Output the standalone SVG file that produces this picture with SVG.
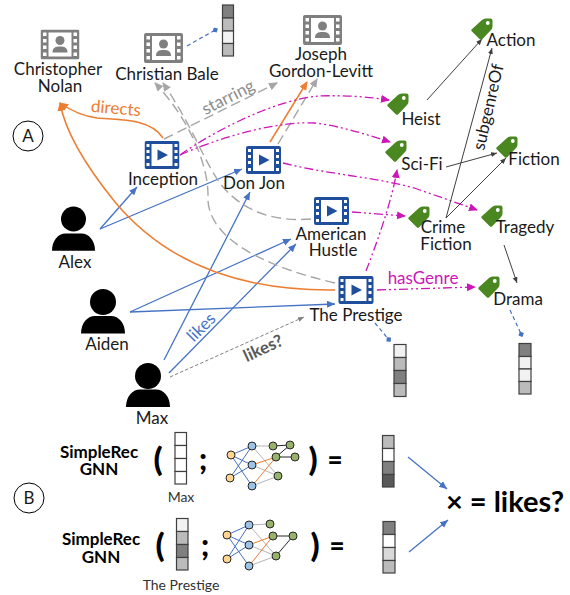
<svg xmlns="http://www.w3.org/2000/svg" xmlns:xlink="http://www.w3.org/1999/xlink" width="570" height="595" viewBox="0 0 570 595">
<style>
text{font-family:"Lato","Open Sans",sans-serif;fill:#1a1a1a;font-size:17px;text-anchor:middle}
.b{font-weight:700;fill:#000}
.p{font-weight:900;fill:#000;font-size:33px}
.s{font-size:14px;fill:#333}
.sr{font-size:17px}
.lk{stroke:#4472c4;stroke-width:1.3;fill:none;marker-end:url(#ab)}
.or{stroke:#ed7d31;stroke-width:1.5;fill:none;marker-end:url(#ao)}
.gr{stroke:#a6a6a6;stroke-width:1.4;fill:none;stroke-dasharray:10 5;marker-end:url(#ag)}
.mg{stroke:#cc16b8;stroke-width:1.3;fill:none;stroke-dasharray:9 3 2 3 2 3;marker-end:url(#am)}
.bk{stroke:#404040;stroke-width:1;fill:none;marker-end:url(#ak)}
.em{stroke:#4472c4;stroke-width:1.2;fill:none;stroke-dasharray:4 3;marker-end:url(#ad)}
.cell{stroke:#404040;stroke-width:1.2}
.nb{stroke:#4472c4;stroke-width:1}.ng{stroke:#b5b5b5;stroke-width:1}.no{stroke:#ed7d31;stroke-width:1}.nk{stroke:#262626;stroke-width:1}
.io{fill:#ffd58f}.ib{fill:#9dc3e6}.ig{fill:#97b36b}
.nn circle{stroke:#262626;stroke-width:1}
</style>
<defs>
<marker id="ab" markerWidth="9" markerHeight="8" refX="8" refY="3.500" orient="auto" markerUnits="userSpaceOnUse"><path d="M0 0L8 3.500L0 7z" fill="#4472c4"/></marker>
<marker id="ao" markerWidth="10" markerHeight="9" refX="8" refY="4" orient="auto" markerUnits="userSpaceOnUse"><path d="M0 0L9 4L0 8z" fill="#ed7d31"/></marker>
<marker id="ag" markerWidth="10" markerHeight="9" refX="8" refY="4" orient="auto" markerUnits="userSpaceOnUse"><path d="M0 0L9 4L0 8z" fill="#a6a6a6"/></marker>
<marker id="am" markerWidth="10" markerHeight="9" refX="8" refY="4" orient="auto" markerUnits="userSpaceOnUse"><path d="M0 0L9 4L0 8z" fill="#cc16b8"/></marker>
<marker id="ak" markerWidth="7" markerHeight="6" refX="6" refY="2.500" orient="auto" markerUnits="userSpaceOnUse"><path d="M0 0L6 2.500L0 5z" fill="#404040"/></marker>
<marker id="ad" markerWidth="7" markerHeight="7" refX="5" refY="3" orient="auto" markerUnits="userSpaceOnUse"><path d="M3 0L6 3L3 6L0 3z" fill="#4472c4"/></marker>
<marker id="ae" markerWidth="7" markerHeight="6" refX="6" refY="2.500" orient="auto" markerUnits="userSpaceOnUse"><path d="M0 0L6 2.500L0 5z" fill="#7f7f7f"/></marker>
<symbol id="film" viewBox="0 0 35 28">
<rect width="35" height="28" rx="2" fill="#1f4e9c"/>
<rect x="7" y="3" width="21" height="22" fill="#fff"/>
<g fill="#fff"><rect x="2" y="3" width="3" height="3"/><rect x="2" y="9" width="3" height="3"/><rect x="2" y="15" width="3" height="3"/><rect x="2" y="22" width="3" height="3"/><rect x="30" y="3" width="3" height="3"/><rect x="30" y="9" width="3" height="3"/><rect x="30" y="15" width="3" height="3"/><rect x="30" y="22" width="3" height="3"/></g>
<path d="M13 8.500L23.500 14L13 19.500z" fill="#1f4e9c"/>
</symbol>
<symbol id="pfilm" viewBox="0 0 39 30">
<rect width="39" height="30" rx="2" fill="#7f7f7f"/>
<rect x="8" y="3" width="23" height="24" fill="#fff"/>
<g fill="#fff"><rect x="2.500" y="3" width="3.500" height="3.500"/><rect x="2.500" y="9.500" width="3.500" height="3.500"/><rect x="2.500" y="16" width="3.500" height="3.500"/><rect x="2.500" y="23" width="3.500" height="3.500"/><rect x="33" y="3" width="3.500" height="3.500"/><rect x="33" y="9.500" width="3.500" height="3.500"/><rect x="33" y="16" width="3.500" height="3.500"/><rect x="33" y="23" width="3.500" height="3.500"/></g>
<circle cx="19.500" cy="11" r="4.500" fill="#7f7f7f"/>
<path d="M12 23C12 18 15 17 19.500 17S27 18 27 23z" fill="#7f7f7f"/>
</symbol>
<symbol id="tag" viewBox="0 0 22 22">
<path d="M0.500 11.500L11 2Q12.500 0.500 14.500 0.500H19.500Q21.500 0.500 21.500 2.500V8.500Q21.500 10.500 20 12L11 21.500Q10 22 9 21.500L0.500 13Q0 12 0.500 11.500z" fill="#4b8720"/>
<circle cx="16.800" cy="5" r="1.900" fill="#fff"/>
</symbol>
<symbol id="person" viewBox="0 0 44 32" overflow="visible">
<path d="M0 32C0 22 6 14.500 14 14.500H30C38 14.500 44 22 44 32z" fill="#000"/>
</symbol>
</defs>

<g id="connectors">
<path class="lk" d="M100 229L137 187"/>
<path class="lk" d="M100 229L242 169"/>
<path class="lk" d="M130 312L291 239"/>
<path class="lk" d="M130 312L335 304"/>
<path class="lk" d="M164 360L250 192"/>
<path class="lk" d="M169 373L296 244"/>
<path d="M170 377L304 317" fill="none" stroke="#7f7f7f" stroke-width="1" stroke-dasharray="3.500 2" marker-end="url(#ae)"/>
<path class="or" d="M163 138C150 118 118 120 97 118C82 116 70 110 60 103"/>
<path class="or" d="M335 290C250 291 170 268 115 202C85 165 65 130 60 103"/>
<path class="or" d="M270 142L307 82"/>
<path class="gr" d="M164 139L277 83"/>
<path class="gr" d="M278 144L317 79"/>
<path class="gr" d="M335 283C270 268 205 240 208 195C208 165 190 120 155 83"/>
<path class="gr" d="M311 219C285 221 250 218 223 187C205 165 195 130 163 83"/>
<path class="mg" d="M180 155C215 130 280 98 320 96C345 95 370 97 389 100"/>
<path class="mg" d="M180 155C225 135 280 121 315 123C340 126 365 134 390 142"/>
<path class="mg" d="M283 163C330 175 385 178 420 190C440 197 460 204 477 210"/>
<path class="mg" d="M352 212L405 216"/>
<path class="mg" d="M366 271C378 240 392 200 397 170"/>
<path class="mg" d="M377 290L475 287"/>
<path class="bk" d="M427 100L482 39"/>
<path class="bk" d="M446 218L492 48"/>
<path class="bk" d="M446 167L497 153"/>
<path class="bk" d="M446 218L506 158"/>
<path class="bk" d="M504 245L517 283"/>
<path class="em" d="M187 46L217 29"/>
<path class="em" d="M375 323L390 341"/>
<path class="em" d="M510 310L522 336"/>
<path class="lk" d="M408 457L447 489"/>
<path class="lk" d="M409 552L448 520"/>
<text x="116" y="114" transform="rotate(5 116 108)" style="fill:#ed7d31">directs</text>
<text x="228" y="103" transform="rotate(-27 228 97)" style="fill:#8c8c8c">starring</text>
<text x="201" y="333" transform="rotate(-45 201 327)" style="fill:#4472c4">likes</text>
<text x="263" y="354" transform="rotate(-25 263 348)" style="fill:#595959;font-weight:700">likes?</text>
<text x="423" y="284" style="fill:#cc16b8">hasGenre</text>
<text x="488" y="113" transform="rotate(-77 488 107)">subgenreOf</text>
</g>

<g id="badge-a"><circle cx="28" cy="136" r="15" fill="#fff" stroke="#000" stroke-width="1"/><text x="28" y="142">A</text></g>
<g id="badge-b"><circle cx="29" cy="498" r="15" fill="#fff" stroke="#000" stroke-width="1"/><text x="29" y="504">B</text></g>

<g id="christopher-nolan"><use xlink:href="#pfilm" x="40.500" y="29.500" width="39" height="30"/><text><tspan x="58" y="75">Christopher</tspan><tspan x="60" y="92">Nolan</tspan></text></g>
<g id="christian-bale"><use xlink:href="#pfilm" x="144" y="33" width="39" height="30"/><text x="167" y="80">Christian Bale</text></g>
<g id="joseph-gordon-levitt"><use xlink:href="#pfilm" x="303" y="15" width="39" height="30"/><text><tspan x="321" y="60">Joseph</tspan><tspan x="321" y="77">Gordon-Levitt</tspan></text></g>

<g id="inception"><use xlink:href="#film" x="144.500" y="141" width="35" height="28"/><text x="163" y="185">Inception</text></g>
<g id="don-jon"><use xlink:href="#film" x="246" y="146" width="35" height="28"/><text x="254" y="189">Don Jon</text></g>
<g id="american-hustle"><use xlink:href="#film" x="314" y="197" width="35" height="28"/><text><tspan x="331" y="240">American</tspan><tspan x="333" y="256">Hustle</tspan></text></g>
<g id="the-prestige"><use xlink:href="#film" x="338" y="276" width="36" height="28"/><text x="356" y="321">The Prestige</text></g>

<g id="action"><use xlink:href="#tag" x="471" y="18" width="22" height="22"/><text x="511" y="46">Action</text></g>
<g id="heist"><use xlink:href="#tag" x="387" y="93" width="22" height="22"/><text x="421" y="125">Heist</text></g>
<g id="sci-fi"><use xlink:href="#tag" x="385" y="140" width="22" height="22"/><text x="422" y="170">Sci-Fi</text></g>
<g id="fiction"><use xlink:href="#tag" x="496" y="136" width="22" height="22"/><text x="534" y="165">Fiction</text></g>
<g id="crime-fiction"><use xlink:href="#tag" x="408" y="206" width="22" height="22"/><text><tspan x="443" y="233">Crime</tspan><tspan x="446" y="250">Fiction</tspan></text></g>
<g id="tragedy"><use xlink:href="#tag" x="481" y="205" width="22" height="22"/><text x="525" y="233">Tragedy</text></g>
<g id="drama"><use xlink:href="#tag" x="478" y="276" width="22" height="22"/><text x="518" y="305">Drama</text></g>

<g id="alex"><circle cx="73.500" cy="219" r="12.500"/><use xlink:href="#person" x="52" y="219" width="43" height="32"/><text x="75" y="268">Alex</text></g>
<g id="aiden"><circle cx="103" cy="302" r="13"/><use xlink:href="#person" x="81" y="301.500" width="44" height="32"/><text x="107" y="350">Aiden</text></g>
<g id="max"><circle cx="148" cy="376" r="13"/><use xlink:href="#person" x="126" y="375" width="44" height="32"/><text x="152" y="424">Max</text></g>

<g id="emb-bale"><rect class="cell" x="222.500" y="5" width="11" height="13" fill="#808080"/><rect class="cell" x="222.500" y="18" width="11" height="13" fill="#bbb"/><rect class="cell" x="222.500" y="31" width="11" height="12.500" fill="#f2f2f2"/><rect class="cell" x="222.500" y="43.500" width="11" height="12.500" fill="#bbb"/></g>
<g id="emb-prestige"><rect class="cell" x="394" y="344.500" width="12" height="13" fill="#f2f2f2"/><rect class="cell" x="394" y="357.500" width="12" height="13" fill="#bbb"/><rect class="cell" x="394" y="370.500" width="12" height="13" fill="#808080"/><rect class="cell" x="394" y="383.500" width="12" height="13" fill="#bbb"/></g>
<g id="emb-drama"><rect class="cell" x="519" y="343.500" width="12" height="13" fill="#808080"/><rect class="cell" x="519" y="356.500" width="12" height="12.500" fill="#f2f2f2"/><rect class="cell" x="519" y="369" width="12" height="12.500" fill="#f2f2f2"/><rect class="cell" x="519" y="381.500" width="12" height="12.500" fill="#bbb"/></g>

<g id="row-max">
<text class="b sr"><tspan x="99" y="458">SimpleRec</tspan><tspan x="99" y="475">GNN</tspan></text>
<text class="p" x="158" y="471">(</text>
<g fill="#fff"><rect class="cell" x="175" y="432.500" width="11.500" height="13"/><rect class="cell" x="175" y="445.500" width="11.500" height="13"/><rect class="cell" x="175" y="458.500" width="11.500" height="13"/><rect class="cell" x="175" y="471.500" width="11.500" height="12.500"/></g>
<text class="p" x="203" y="470" style="font-size:30px">;</text>
<text class="s" x="181" y="502">Max</text>
<g class="nn">
<g class="nb"><path d="M231 455L252 446M231 455L252 465M231 455L252 486M230 478L252 446M230 478L252 465"/></g>
<g class="ng"><path d="M252 446L273 446M252 446L278 476M252 465L278 476M252 486L278 476"/></g>
<g class="no"><path d="M252 465L276 457M252 486L276 457"/></g>
<g class="nk"><path d="M273 446L290 445M276 457L290 445M276 457L295 457"/></g>
<circle class="io" cx="231" cy="455" r="4"/><circle class="io" cx="230" cy="478" r="4"/>
<circle class="ib" cx="252" cy="446" r="4"/><circle class="ib" cx="252" cy="465" r="4"/><circle class="ib" cx="252" cy="486" r="4"/>
<circle class="ig" cx="273" cy="446" r="4"/><circle class="ig" cx="290" cy="445" r="4"/><circle class="ig" cx="276" cy="457" r="4"/><circle class="ig" cx="295" cy="457" r="4"/><circle class="ig" cx="278" cy="476" r="4"/>
</g>
<text class="p" x="313" y="471">)</text>
<text class="p" x="335" y="469" style="font-size:26px">=</text>
<g><rect class="cell" x="382.500" y="435.500" width="11.500" height="13" fill="#bbb"/><rect class="cell" x="382.500" y="448.500" width="11.500" height="13" fill="#fff"/><rect class="cell" x="382.500" y="461.500" width="11.500" height="13" fill="#808080"/><rect class="cell" x="382.500" y="474.500" width="11.500" height="12.500" fill="#595959"/></g>
</g>

<g id="row-prestige">
<text class="b sr"><tspan x="101" y="545">SimpleRec</tspan><tspan x="101" y="563">GNN</tspan></text>
<text class="p" x="160" y="557">(</text>
<g><rect class="cell" x="176.500" y="518.500" width="11.500" height="13" fill="#f2f2f2"/><rect class="cell" x="176.500" y="531.500" width="11.500" height="13" fill="#bbb"/><rect class="cell" x="176.500" y="544.500" width="11.500" height="13" fill="#808080"/><rect class="cell" x="176.500" y="557.500" width="11.500" height="12.500" fill="#bbb"/></g>
<text class="p" x="205" y="556" style="font-size:30px">;</text>
<text class="s" x="181" y="590">The Prestige</text>
<g class="nn">
<g class="nb"><path d="M227 535L249 525M227 535L249 545M227 535L249 566M227 559L249 525M227 559L249 545"/></g>
<g class="ng"><path d="M249 525L270 524M249 525L276 556M249 545L276 556M249 566L276 556"/></g>
<g class="no"><path d="M249 545L273 536M249 566L273 536"/></g>
<g class="nk"><path d="M273 536L293 536M276 556L293 536"/></g>
<circle class="io" cx="227" cy="535" r="4"/><circle class="io" cx="227" cy="559" r="4"/>
<circle class="ib" cx="249" cy="525" r="4"/><circle class="ib" cx="249" cy="545" r="4"/><circle class="ib" cx="249" cy="566" r="4"/>
<circle class="ig" cx="270" cy="524" r="4"/><circle class="ig" cx="273" cy="536" r="4"/><circle class="ig" cx="276" cy="556" r="4"/><circle class="ig" cx="293" cy="536" r="4"/>
</g>
<text class="p" x="315" y="557">)</text>
<text class="p" x="337" y="555" style="font-size:26px">=</text>
<g><rect class="cell" x="383" y="521.500" width="12" height="13" fill="#808080"/><rect class="cell" x="383" y="534.500" width="12" height="13" fill="#fff"/><rect class="cell" x="383" y="547.500" width="12" height="13" fill="#d9d9d9"/><rect class="cell" x="383" y="560.500" width="12" height="12.500" fill="#bbb"/></g>
</g>
<text id="result" class="b" x="505" y="512" style="font-size:29px">× = likes?</text>
</svg>
